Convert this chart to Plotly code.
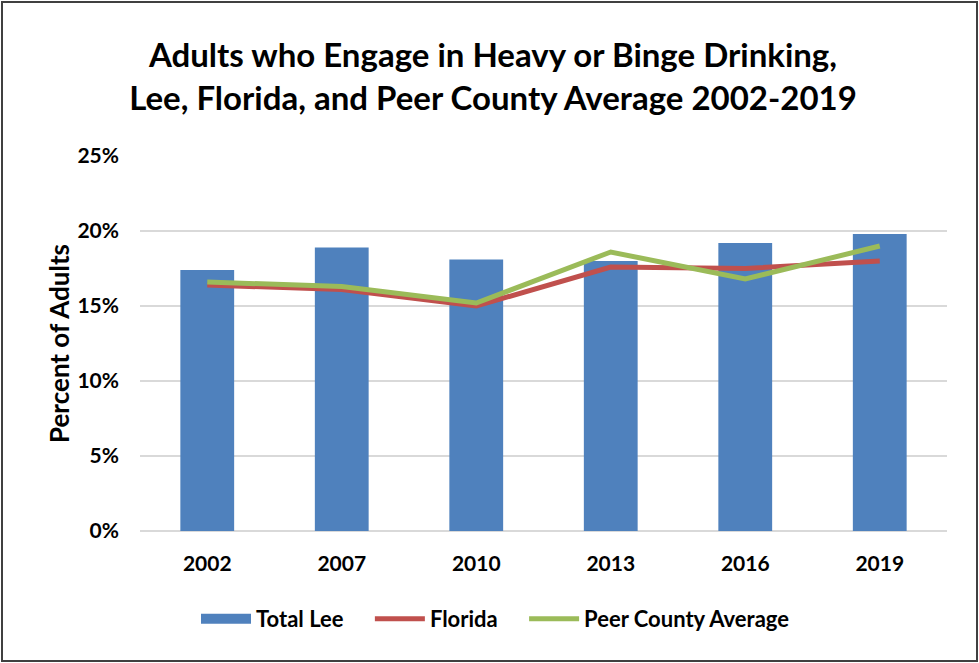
import plotly.graph_objects as go

years = ["2002", "2007", "2010", "2013", "2016", "2019"]
total_lee = [17.4, 18.9, 18.1, 18.0, 19.2, 19.8]
florida = [16.4, 16.1, 15.0, 17.6, 17.5, 18.0]
peer_avg = [16.6, 16.3, 15.2, 18.6, 16.8, 19.0]
y_ticks = [0, 5, 10, 15, 20, 25]
y_tick_labels = ["0%", "5%", "10%", "15%", "20%", "25%"]

FONT = "Lato, sans-serif"
BAR_COLOR = "#4f81bd"
PAD = "\u00a0" * 4

fig = go.Figure()
fig.add_trace(go.Bar(x=years, y=total_lee, name="Total Lee", showlegend=False,
                     legendgroup="lee",
                     marker=dict(color=BAR_COLOR, line=dict(width=0))))
# legend-only entry giving the wide rectangular swatch of the bar series
fig.add_trace(go.Scatter(x=[None], y=[None], name="Total Lee" + PAD, mode="lines",
                         legendgroup="lee", line=dict(color=BAR_COLOR, width=16)))
fig.add_trace(go.Scatter(x=years, y=florida, name="Florida" + PAD, mode="lines",
                         line=dict(color="#c0504d", width=5)))
fig.add_trace(go.Scatter(x=years, y=peer_avg, name="Peer County Average", mode="lines",
                         line=dict(color="#9bbb59", width=5)))

W, H = 979, 663
L, R, T, B = 140, 32, 156, 132
pw, ph = W - L - R, H - T - B

fig.update_layout(
    width=W, height=H,
    margin=dict(l=L, r=R, t=T, b=B, autoexpand=False),
    paper_bgcolor="white", plot_bgcolor="white",
    bargap=0.6,
    title=dict(text="<b>Adults who Engage in Heavy or Binge Drinking,<br>Lee, Florida, and Peer County Average 2002-2019</b>",
               x=493 / W, xanchor="center", xref="container", y=1 - 67 / H, yanchor="middle",
               font=dict(family=FONT, size=33, color="black")),
    font=dict(family=FONT, color="black"),
    xaxis=dict(tickfont=dict(size=21, family=FONT, weight="bold"), showgrid=False,
               showline=False, ticks="", ticklabelstandoff=18),
    yaxis=dict(range=[0, 25], tickvals=y_ticks, ticktext=y_tick_labels,
               tickfont=dict(size=21, family=FONT, weight="bold"),
               showgrid=True, gridcolor="#d9d9d9", gridwidth=1.5,
               zeroline=True, zerolinecolor="#d9d9d9", zerolinewidth=1.5,
               ticks="", ticklabelstandoff=20,
               title=dict(text="<b>Percent of Adults</b>", font=dict(size=26, family=FONT), standoff=0)),
    legend=dict(orientation="h", x=(495.5 - L) / pw, xanchor="center",
                y=(0 - 88) / ph, yanchor="middle",
                font=dict(size=22, family=FONT, weight="bold"), itemwidth=50,
                traceorder="normal"),
    shapes=[dict(type="rect", xref="paper", yref="paper",
                 x0=(2 - L) / pw, x1=(977 - L) / pw,
                 y0=(H - B - 661) / ph, y1=(H - B - 2) / ph,
                 line=dict(color="#404040", width=2), fillcolor="rgba(0,0,0,0)", layer="below")],
)

fig.write_html("out.html", config={"displayModeBar": False},
               post_script="document.body.style.margin='0';")
